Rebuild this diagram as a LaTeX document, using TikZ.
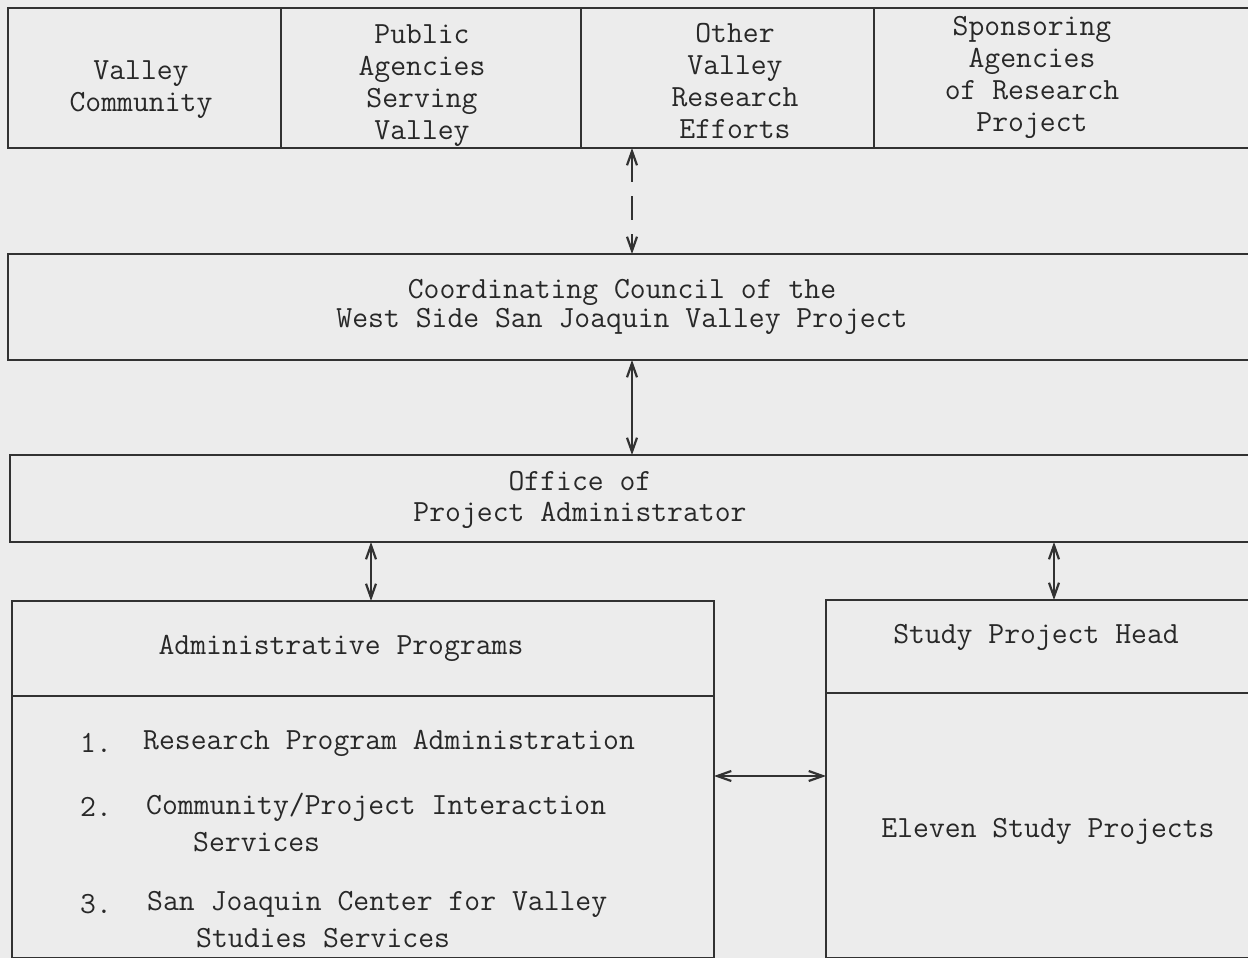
\documentclass[tikz,border=0pt]{standalone}
\usepackage{fontspec}
\usetikzlibrary{arrows.meta}
\definecolor{bgc}{RGB}{236,236,236}
\definecolor{linec}{RGB}{50,50,50}
\definecolor{textc}{RGB}{40,40,40}
\tikzset{
  box/.style={draw=linec, line width=1.6pt, rectangle, inner sep=0pt, outer sep=0pt, anchor=north west},
  txt/.style={font=\ttfamily\fontsize{30.8}{32}\selectfont, align=center, text=textc, inner sep=0pt},
  itm/.style={font=\ttfamily\fontsize{30.8}{32}\selectfont, text=textc, inner sep=0pt, anchor=west},
  arr/.style={draw=linec, line width=1.6pt, {Straight Barb[length=14pt,width=10pt,line width=2.2pt]}-{Straight Barb[length=14pt,width=10pt,line width=2.2pt]}}
}
\begin{document}
\begin{tikzpicture}[x=1pt,y=-1pt]
\useasboundingbox (0,0) rectangle (1248,958);
\fill[bgc] (0,0) rectangle (1248,958);
\clip (0,0) rectangle (1248,958);
% top row
\node[box, minimum width=273pt, minimum height=140pt] (c1) at (8,8) {};
\node[box, minimum width=300pt, minimum height=140pt] (c2) at (281,8) {};
\node[box, minimum width=293pt, minimum height=140pt] (c3) at (581,8) {};
\node[box, minimum width=390pt, minimum height=140pt] (c4) at (874,8) {};
\node[txt] (t1) at (141,90) {Valley\\Community};
\node[txt] (t2) at (422,86) {Public\\Agencies\\Serving\\Valley};
\node[txt] (t3) at (735,81) {Other\\Valley\\Research\\Efforts};
\node[txt] (t4) at (1032,77) {Sponsoring\\Agencies\\of Research\\Project};
% council
\node[box, minimum width=1256pt, minimum height=106pt] (council) at (8,254) {};
\node[txt, font=\ttfamily\fontsize{30.8}{29}\selectfont] (tc) at (622,307) {Coordinating Council of the\\West Side San Joaquin Valley Project};
% office
\node[box, minimum width=1254pt, minimum height=87pt] (office) at (10,455) {};
\node[txt, font=\ttfamily\fontsize{30.8}{31}\selectfont] (to) at (580,500) {Office of\\Project Administrator};
% admin
\node[box, minimum width=702pt, minimum height=95pt] (adminhead) at (12,601) {};
\node[box, minimum width=702pt, minimum height=262pt] (adminbody) at (12,696) {};
\node[txt] (ta) at (341,648) {Administrative Programs};
\node[itm] (n1) at (80,743) {1.};
\node[itm] (i1) at (143,743) {Research Program Administration};
\node[itm] (n2) at (80,807) {2.};
\node[itm] (i2) at (146,807) {Community/Project Interaction};
\node[itm] (i2b) at (193,842) {Services};
\node[itm] (n3) at (80,904) {3.};
\node[itm] (i3) at (147,904) {San Joaquin Center for Valley};
\node[itm] (i3b) at (196,938) {Studies Services};
% study
\node[box, minimum width=440pt, minimum height=93pt] (studyhead) at (826,600) {};
\node[box, minimum width=440pt, minimum height=265pt] (studybody) at (826,693) {};
\node[txt] (ts) at (1036,637) {Study Project Head};
\node[txt] (te) at (1048,831) {Eleven Study Projects};
% connectors
\coordinate (xa) at (632,0);
\coordinate (xb) at (371,0);
\coordinate (xc) at (1054,0);
\coordinate (ya) at (0,776);
\draw[arr, dash pattern=on 30pt off 14pt on 24pt off 14pt on 40pt] (c3.south -| xa) -- (council.north -| xa);
\draw[arr] (council.south -| xa) -- (office.north -| xa);
\draw[arr] (office.south -| xb) -- (adminhead.north -| xb);
\draw[arr] (office.south -| xc) -- (studyhead.north -| xc);
\draw[arr] (adminbody.east |- ya) -- (studybody.west |- ya);
\end{tikzpicture}
\end{document}
